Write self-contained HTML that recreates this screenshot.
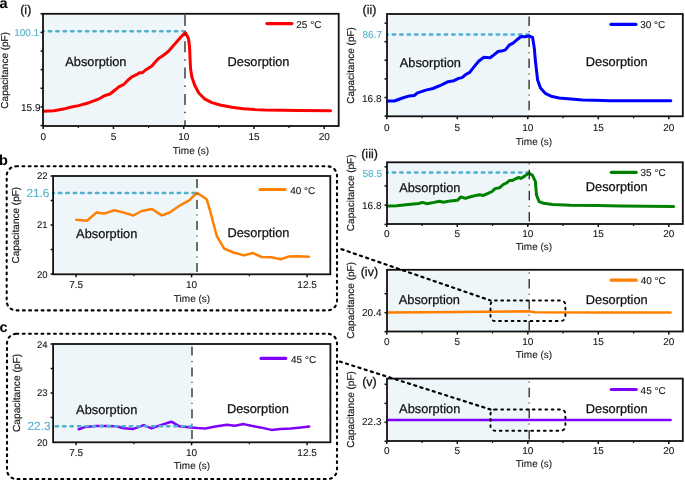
<!DOCTYPE html>
<html><head><meta charset="utf-8"><style>
html,body{margin:0;padding:0;background:#fff;}
body{width:685px;height:480px;overflow:hidden;font-family:"Liberation Sans", sans-serif;}
text{text-rendering:geometricPrecision;}
svg{display:block;will-change:transform;}
</style></head><body>
<svg width="685" height="480" viewBox="0 0 685 480" font-family='"Liberation Sans", sans-serif'>
<rect width="685" height="480" fill="#fff"/>
<text x="-0.6" y="7.6" font-size="14.5" text-anchor="start" fill="#000" stroke="#000" stroke-width="0" font-weight="bold" >a</text>
<text x="-0.9" y="164.5" font-size="14.5" text-anchor="start" fill="#000" stroke="#000" stroke-width="0" font-weight="bold" >b</text>
<text x="-0.5" y="332.3" font-size="14.5" text-anchor="start" fill="#000" stroke="#000" stroke-width="0" font-weight="bold" >c</text>
<text x="20.2" y="14" font-size="12.5" text-anchor="start" fill="#111" stroke="#111" stroke-width="0.25" font-weight="normal" >(i)</text>
<text x="362.6" y="14.0" font-size="12.5" text-anchor="start" fill="#111" stroke="#111" stroke-width="0.25" font-weight="normal" >(ii)</text>
<text x="361.2" y="157.6" font-size="12.5" text-anchor="start" fill="#111" stroke="#111" stroke-width="0.25" font-weight="normal" >(iii)</text>
<text x="360.7" y="275.8" font-size="12.5" text-anchor="start" fill="#111" stroke="#111" stroke-width="0.25" font-weight="normal" >(iv)</text>
<text x="362.2" y="386" font-size="12.5" text-anchor="start" fill="#111" stroke="#111" stroke-width="0.25" font-weight="normal" >(v)</text>
<rect x="43" y="13.8" width="141.6" height="112.2" fill="#eef6fa"/>
<text x="65.3" y="66.0" font-size="12.8" text-anchor="start" fill="#111" stroke="#111" stroke-width="0.25" font-weight="normal" >Absorption</text>
<text x="227.6" y="65.75" font-size="12.8" text-anchor="start" fill="#111" stroke="#111" stroke-width="0.25" font-weight="normal" >Desorption</text>
<line x1="43" y1="31.35" x2="184.5" y2="31.35" stroke="#4fafcc" stroke-width="2.5" stroke-dasharray="2.4 5.02" stroke-dashoffset="1.6" stroke-linecap="round"/>
<polyline points="43.5,111.3 54,110.8 63.4,109.1 70.4,107.3 78.5,105.6 89,102.7 98.4,99.2 104.3,95.8 110,94 116,89.3 118.8,86.9 123.4,84.7 128.1,80 131.9,76.8 136.6,74.7 139.4,72.8 142.2,72.8 146,69.7 151.6,66.3 158.2,58.8 163.8,55 168.5,51.3 175,43.8 180.7,37.2 185.4,32.5 188.5,38.5 189.6,47.5 190.1,60 190.6,69.3 192,77.5 194.9,85.7 199,93.3 204.9,99.1 211.9,102.6 220,105 231.7,107.3 243.4,108.8 255,109.6 265,110 300,110.6 330.6,110.8" fill="none" stroke="#ff0000" stroke-width="3" stroke-linejoin="round" stroke-linecap="round"/>
<line x1="185" y1="15" x2="185" y2="126" stroke="#2a2a2a" stroke-width="1.35" stroke-dasharray="11 6.9 1.5 6.9" stroke-dashoffset="0"/>
<rect x="43" y="13.8" width="295.7" height="112.2" fill="none" stroke="#111" stroke-width="1.8"/>
<line x1="43.2" y1="126" x2="43.2" y2="129" stroke="#111" stroke-width="1.5" />
<line x1="113.45" y1="126" x2="113.45" y2="129" stroke="#111" stroke-width="1.5" />
<line x1="183.7" y1="126" x2="183.7" y2="129" stroke="#111" stroke-width="1.5" />
<line x1="253.95" y1="126" x2="253.95" y2="129" stroke="#111" stroke-width="1.5" />
<line x1="324.2" y1="126" x2="324.2" y2="129" stroke="#111" stroke-width="1.5" />
<line x1="78.325" y1="126" x2="78.325" y2="128" stroke="#111" stroke-width="1.2" />
<line x1="148.575" y1="126" x2="148.575" y2="128" stroke="#111" stroke-width="1.2" />
<line x1="218.825" y1="126" x2="218.825" y2="128" stroke="#111" stroke-width="1.2" />
<line x1="289.075" y1="126" x2="289.075" y2="128" stroke="#111" stroke-width="1.2" />
<line x1="40.5" y1="13.8" x2="43" y2="13.8" stroke="#111" stroke-width="1.5" />
<line x1="40.5" y1="32.42" x2="43" y2="32.42" stroke="#111" stroke-width="1.5" />
<line x1="40.5" y1="51.040000000000006" x2="43" y2="51.040000000000006" stroke="#111" stroke-width="1.5" />
<line x1="40.5" y1="69.66" x2="43" y2="69.66" stroke="#111" stroke-width="1.5" />
<line x1="40.5" y1="88.28" x2="43" y2="88.28" stroke="#111" stroke-width="1.5" />
<line x1="40.5" y1="106.9" x2="43" y2="106.9" stroke="#111" stroke-width="1.5" />
<line x1="40.5" y1="125.52" x2="43" y2="125.52" stroke="#111" stroke-width="1.5" />
<line x1="266.90000000000003" y1="23.6" x2="291.9" y2="23.6" stroke="#ff0000" stroke-width="3.2" stroke-linecap="round"/>
<text x="296.3" y="27.700000000000003" font-size="10" text-anchor="start" fill="#111" stroke="#111" stroke-width="0.08" font-weight="normal" >25 °C</text>
<text x="43.2" y="140.2" font-size="10" text-anchor="middle" fill="#111" stroke="#111" stroke-width="0.08" font-weight="normal" >0</text>
<text x="113.45" y="140.2" font-size="10" text-anchor="middle" fill="#111" stroke="#111" stroke-width="0.08" font-weight="normal" >5</text>
<text x="183.7" y="140.2" font-size="10" text-anchor="middle" fill="#111" stroke="#111" stroke-width="0.08" font-weight="normal" >10</text>
<text x="253.95" y="140.2" font-size="10" text-anchor="middle" fill="#111" stroke="#111" stroke-width="0.08" font-weight="normal" >15</text>
<text x="324.2" y="140.2" font-size="10" text-anchor="middle" fill="#111" stroke="#111" stroke-width="0.08" font-weight="normal" >20</text>
<text x="191" y="154.3" font-size="10" text-anchor="middle" fill="#111" stroke="#111" stroke-width="0.08" font-weight="normal" >Time (s)</text>
<text x="39.2" y="35.9" font-size="10" text-anchor="end" fill="#4fafcc" stroke="#4fafcc" stroke-width="0.08" font-weight="normal" >100.1</text>
<text x="40.5" y="110.9" font-size="10" text-anchor="end" fill="#111" stroke="#111" stroke-width="0.08" font-weight="normal" >15.9</text>
<text x="0" y="0" font-size="10" text-anchor="middle" fill="#111" stroke="#111" stroke-width="0.15" transform="translate(8,70.3) rotate(-90)">Capacitance (pF)</text>
<rect x="387" y="14" width="141.60000000000002" height="102.3" fill="#eef6fa"/>
<text x="399.8" y="66.55" font-size="12.8" text-anchor="start" fill="#111" stroke="#111" stroke-width="0.25" font-weight="normal" >Absorption</text>
<text x="585.8" y="66.0" font-size="12.8" text-anchor="start" fill="#111" stroke="#111" stroke-width="0.25" font-weight="normal" >Desorption</text>
<line x1="387" y1="34.5" x2="528.5" y2="34.5" stroke="#4fafcc" stroke-width="2.5" stroke-dasharray="2.4 5.02" stroke-dashoffset="1.6" stroke-linecap="round"/>
<polyline points="387.5,101 394.3,101 402.5,98 409.5,95.9 414.2,95.5 417.7,92.8 425.9,90.1 432.9,88.5 441.1,85.2 448.1,81.7 453.9,80.7 458.6,78.4 462.1,77.6 465.3,74.8 469.7,72.4 474.2,66.6 478.6,61.3 483.9,57.2 486.5,57.4 490.1,57.7 493.6,55.1 498.1,51.5 502.5,50.7 505.1,50.1 509.6,44.8 513.1,43.1 516.6,40 521.1,36.5 524.6,36.7 529,36 532.6,37.4 534.3,48 535.3,60 536.1,67 537.6,79.9 540.5,88 545.2,93.3 551,96.2 559.2,98 570.9,99.1 582.6,100 594.3,100.3 610,100.7 640,100.8 670.8,100.8" fill="none" stroke="#0000ff" stroke-width="3" stroke-linejoin="round" stroke-linecap="round"/>
<line x1="529.1" y1="16.4" x2="529.1" y2="116.3" stroke="#2a2a2a" stroke-width="1.35" stroke-dasharray="9.5 5.3 1 5.3" stroke-dashoffset="0"/>
<rect x="387" y="14" width="295.79999999999995" height="102.3" fill="none" stroke="#111" stroke-width="1.8"/>
<line x1="386.8" y1="116.3" x2="386.8" y2="119.3" stroke="#111" stroke-width="1.5" />
<line x1="457.3" y1="116.3" x2="457.3" y2="119.3" stroke="#111" stroke-width="1.5" />
<line x1="527.8" y1="116.3" x2="527.8" y2="119.3" stroke="#111" stroke-width="1.5" />
<line x1="598.3" y1="116.3" x2="598.3" y2="119.3" stroke="#111" stroke-width="1.5" />
<line x1="668.8" y1="116.3" x2="668.8" y2="119.3" stroke="#111" stroke-width="1.5" />
<line x1="422.05" y1="116.3" x2="422.05" y2="118.3" stroke="#111" stroke-width="1.2" />
<line x1="492.55" y1="116.3" x2="492.55" y2="118.3" stroke="#111" stroke-width="1.2" />
<line x1="563.05" y1="116.3" x2="563.05" y2="118.3" stroke="#111" stroke-width="1.2" />
<line x1="633.55" y1="116.3" x2="633.55" y2="118.3" stroke="#111" stroke-width="1.2" />
<line x1="384.5" y1="23.1" x2="387" y2="23.1" stroke="#111" stroke-width="1.5" />
<line x1="384.5" y1="41.7" x2="387" y2="41.7" stroke="#111" stroke-width="1.5" />
<line x1="384.5" y1="60.300000000000004" x2="387" y2="60.300000000000004" stroke="#111" stroke-width="1.5" />
<line x1="384.5" y1="78.9" x2="387" y2="78.9" stroke="#111" stroke-width="1.5" />
<line x1="384.5" y1="97.5" x2="387" y2="97.5" stroke="#111" stroke-width="1.5" />
<line x1="384.5" y1="116.1" x2="387" y2="116.1" stroke="#111" stroke-width="1.5" />
<line x1="611.0" y1="24.3" x2="635.9" y2="24.3" stroke="#0000ff" stroke-width="3.2" stroke-linecap="round"/>
<text x="640.2" y="28.4" font-size="10" text-anchor="start" fill="#111" stroke="#111" stroke-width="0.08" font-weight="normal" >30 °C</text>
<text x="386.8" y="131.2" font-size="10" text-anchor="middle" fill="#111" stroke="#111" stroke-width="0.08" font-weight="normal" >0</text>
<text x="457.3" y="131.2" font-size="10" text-anchor="middle" fill="#111" stroke="#111" stroke-width="0.08" font-weight="normal" >5</text>
<text x="527.8" y="131.2" font-size="10" text-anchor="middle" fill="#111" stroke="#111" stroke-width="0.08" font-weight="normal" >10</text>
<text x="598.3" y="131.2" font-size="10" text-anchor="middle" fill="#111" stroke="#111" stroke-width="0.08" font-weight="normal" >15</text>
<text x="668.8" y="131.2" font-size="10" text-anchor="middle" fill="#111" stroke="#111" stroke-width="0.08" font-weight="normal" >20</text>
<text x="534" y="144.5" font-size="10" text-anchor="middle" fill="#111" stroke="#111" stroke-width="0.08" font-weight="normal" >Time (s)</text>
<text x="382" y="38.1" font-size="10" text-anchor="end" fill="#4fafcc" stroke="#4fafcc" stroke-width="0.08" font-weight="normal" >86.7</text>
<text x="381.5" y="102.2" font-size="10" text-anchor="end" fill="#111" stroke="#111" stroke-width="0.08" font-weight="normal" >16.8</text>
<text x="0" y="0" font-size="10" text-anchor="middle" fill="#111" stroke="#111" stroke-width="0.15" transform="translate(354,65.45) rotate(-90)">Capacitance (pF)</text>
<rect x="387" y="162.3" width="141.60000000000002" height="61.69999999999999" fill="#eef6fa"/>
<text x="399.2" y="191.8" font-size="12.8" text-anchor="start" fill="#111" stroke="#111" stroke-width="0.25" font-weight="normal" >Absorption</text>
<text x="585.8" y="191.45" font-size="12.8" text-anchor="start" fill="#111" stroke="#111" stroke-width="0.25" font-weight="normal" >Desorption</text>
<line x1="387" y1="172.5" x2="528.5" y2="172.5" stroke="#4fafcc" stroke-width="2.5" stroke-dasharray="2.4 5.02" stroke-dashoffset="1.6" stroke-linecap="round"/>
<polyline points="387.5,206 396.7,205.8 408.4,204.6 418.9,203.5 422.4,202.4 427.1,203.7 434,202.4 439.3,201.2 443.4,202.3 450.4,200.9 457.4,200.3 460.9,196.9 465.3,198.4 470.5,196.8 475.2,195.6 479.3,194.8 483.4,195.4 488,193.3 492.1,191.5 495,188.6 499.7,187.7 503.2,184.5 506.7,182.8 509.6,180.4 512.6,180.4 516.1,178.5 519,177.5 520.7,178.5 524.3,176.4 528.9,173.1 532.4,175.2 535.4,181.6 536.5,195 539,201.5 543.6,203.3 552.6,204.4 570.7,205.3 597.9,205.6 620.5,206 673.7,206.5" fill="none" stroke="#008000" stroke-width="3" stroke-linejoin="round" stroke-linecap="round"/>
<line x1="529.3" y1="162.3" x2="529.3" y2="224" stroke="#2a2a2a" stroke-width="1.35" stroke-dasharray="9.5 5.3 1 5.3" stroke-dashoffset="13.65"/>
<rect x="387" y="162.3" width="295.79999999999995" height="61.69999999999999" fill="none" stroke="#111" stroke-width="1.8"/>
<line x1="386.8" y1="224" x2="386.8" y2="227" stroke="#111" stroke-width="1.5" />
<line x1="457.3" y1="224" x2="457.3" y2="227" stroke="#111" stroke-width="1.5" />
<line x1="527.8" y1="224" x2="527.8" y2="227" stroke="#111" stroke-width="1.5" />
<line x1="598.3" y1="224" x2="598.3" y2="227" stroke="#111" stroke-width="1.5" />
<line x1="668.8" y1="224" x2="668.8" y2="227" stroke="#111" stroke-width="1.5" />
<line x1="422.05" y1="224" x2="422.05" y2="226" stroke="#111" stroke-width="1.2" />
<line x1="492.55" y1="224" x2="492.55" y2="226" stroke="#111" stroke-width="1.2" />
<line x1="563.05" y1="224" x2="563.05" y2="226" stroke="#111" stroke-width="1.2" />
<line x1="633.55" y1="224" x2="633.55" y2="226" stroke="#111" stroke-width="1.2" />
<line x1="384.5" y1="166.8" x2="387" y2="166.8" stroke="#111" stroke-width="1.5" />
<line x1="384.5" y1="186.0" x2="387" y2="186.0" stroke="#111" stroke-width="1.5" />
<line x1="384.5" y1="205.20000000000002" x2="387" y2="205.20000000000002" stroke="#111" stroke-width="1.5" />
<line x1="384.5" y1="224.4" x2="387" y2="224.4" stroke="#111" stroke-width="1.5" />
<line x1="611.3000000000001" y1="172.3" x2="636.1999999999999" y2="172.3" stroke="#008000" stroke-width="3.2" stroke-linecap="round"/>
<text x="640.5" y="176.4" font-size="10" text-anchor="start" fill="#111" stroke="#111" stroke-width="0.08" font-weight="normal" >35 °C</text>
<text x="386.8" y="237.4" font-size="10" text-anchor="middle" fill="#111" stroke="#111" stroke-width="0.08" font-weight="normal" >0</text>
<text x="457.3" y="237.4" font-size="10" text-anchor="middle" fill="#111" stroke="#111" stroke-width="0.08" font-weight="normal" >5</text>
<text x="527.8" y="237.4" font-size="10" text-anchor="middle" fill="#111" stroke="#111" stroke-width="0.08" font-weight="normal" >10</text>
<text x="598.3" y="237.4" font-size="10" text-anchor="middle" fill="#111" stroke="#111" stroke-width="0.08" font-weight="normal" >15</text>
<text x="668.8" y="237.4" font-size="10" text-anchor="middle" fill="#111" stroke="#111" stroke-width="0.08" font-weight="normal" >20</text>
<text x="534" y="250.2" font-size="10" text-anchor="middle" fill="#111" stroke="#111" stroke-width="0.08" font-weight="normal" >Time (s)</text>
<text x="382" y="176.5" font-size="10" text-anchor="end" fill="#4fafcc" stroke="#4fafcc" stroke-width="0.08" font-weight="normal" >58.5</text>
<text x="381.5" y="208.8" font-size="10" text-anchor="end" fill="#111" stroke="#111" stroke-width="0.08" font-weight="normal" >16.8</text>
<text x="0" y="0" font-size="10" text-anchor="middle" fill="#111" stroke="#111" stroke-width="0.15" transform="translate(354,192.8) rotate(-90)">Capacitance (pF)</text>
<rect x="387" y="269.8" width="141.60000000000002" height="61.69999999999999" fill="#eef6fa"/>
<text x="398.8" y="304.15" font-size="12.8" text-anchor="start" fill="#111" stroke="#111" stroke-width="0.25" font-weight="normal" >Absorption</text>
<text x="585.8" y="303.85" font-size="12.8" text-anchor="start" fill="#111" stroke="#111" stroke-width="0.25" font-weight="normal" >Desorption</text>
<polyline points="387.5,312.6 460,312.1 529,311.3 535,312.2 600,312.4 670.6,312.4" fill="none" stroke="#ff7f00" stroke-width="2.5" stroke-linejoin="round" stroke-linecap="round"/>
<line x1="529.2" y1="269.8" x2="529.2" y2="331.5" stroke="#2a2a2a" stroke-width="1.35" stroke-dasharray="9.5 5.3 1 5.3" stroke-dashoffset="12"/>
<rect x="387" y="269.8" width="295.79999999999995" height="61.69999999999999" fill="none" stroke="#111" stroke-width="1.8"/>
<line x1="386.8" y1="331.5" x2="386.8" y2="334.5" stroke="#111" stroke-width="1.5" />
<line x1="457.3" y1="331.5" x2="457.3" y2="334.5" stroke="#111" stroke-width="1.5" />
<line x1="527.8" y1="331.5" x2="527.8" y2="334.5" stroke="#111" stroke-width="1.5" />
<line x1="598.3" y1="331.5" x2="598.3" y2="334.5" stroke="#111" stroke-width="1.5" />
<line x1="668.8" y1="331.5" x2="668.8" y2="334.5" stroke="#111" stroke-width="1.5" />
<line x1="422.05" y1="331.5" x2="422.05" y2="333.5" stroke="#111" stroke-width="1.2" />
<line x1="492.55" y1="331.5" x2="492.55" y2="333.5" stroke="#111" stroke-width="1.2" />
<line x1="563.05" y1="331.5" x2="563.05" y2="333.5" stroke="#111" stroke-width="1.2" />
<line x1="633.55" y1="331.5" x2="633.55" y2="333.5" stroke="#111" stroke-width="1.2" />
<line x1="384.5" y1="293.7" x2="387" y2="293.7" stroke="#111" stroke-width="1.5" />
<line x1="384.5" y1="312.7" x2="387" y2="312.7" stroke="#111" stroke-width="1.5" />
<line x1="384.5" y1="331.7" x2="387" y2="331.7" stroke="#111" stroke-width="1.5" />
<line x1="611.3000000000001" y1="280.2" x2="636.1999999999999" y2="280.2" stroke="#ff7f00" stroke-width="3.2" stroke-linecap="round"/>
<text x="640.7" y="284.3" font-size="10" text-anchor="start" fill="#111" stroke="#111" stroke-width="0.08" font-weight="normal" >40 °C</text>
<text x="386.8" y="345.1" font-size="10" text-anchor="middle" fill="#111" stroke="#111" stroke-width="0.08" font-weight="normal" >0</text>
<text x="457.3" y="345.1" font-size="10" text-anchor="middle" fill="#111" stroke="#111" stroke-width="0.08" font-weight="normal" >5</text>
<text x="527.8" y="345.1" font-size="10" text-anchor="middle" fill="#111" stroke="#111" stroke-width="0.08" font-weight="normal" >10</text>
<text x="598.3" y="345.1" font-size="10" text-anchor="middle" fill="#111" stroke="#111" stroke-width="0.08" font-weight="normal" >15</text>
<text x="668.8" y="345.1" font-size="10" text-anchor="middle" fill="#111" stroke="#111" stroke-width="0.08" font-weight="normal" >20</text>
<text x="534" y="358.2" font-size="10" text-anchor="middle" fill="#111" stroke="#111" stroke-width="0.08" font-weight="normal" >Time (s)</text>
<text x="381.5" y="316" font-size="10" text-anchor="end" fill="#111" stroke="#111" stroke-width="0.08" font-weight="normal" >20.4</text>
<text x="0" y="0" font-size="10" text-anchor="middle" fill="#111" stroke="#111" stroke-width="0.15" transform="translate(353.8,300.35) rotate(-90)">Capacitance (pF)</text>
<rect x="387" y="378.6" width="141.60000000000002" height="62.39999999999998" fill="#eef6fa"/>
<text x="399.1" y="413.45" font-size="12.8" text-anchor="start" fill="#111" stroke="#111" stroke-width="0.25" font-weight="normal" >Absorption</text>
<text x="585.8" y="413.1" font-size="12.8" text-anchor="start" fill="#111" stroke="#111" stroke-width="0.25" font-weight="normal" >Desorption</text>
<polyline points="387.5,419.9 670.6,419.9" fill="none" stroke="#8000ff" stroke-width="2.5" stroke-linejoin="round" stroke-linecap="round"/>
<line x1="529.2" y1="378.6" x2="529.2" y2="441" stroke="#2a2a2a" stroke-width="1.35" stroke-dasharray="9.5 5.3 1 5.3" stroke-dashoffset="12"/>
<rect x="387" y="378.6" width="295.79999999999995" height="62.39999999999998" fill="none" stroke="#111" stroke-width="1.8"/>
<line x1="386.8" y1="441" x2="386.8" y2="444" stroke="#111" stroke-width="1.5" />
<line x1="457.3" y1="441" x2="457.3" y2="444" stroke="#111" stroke-width="1.5" />
<line x1="527.8" y1="441" x2="527.8" y2="444" stroke="#111" stroke-width="1.5" />
<line x1="598.3" y1="441" x2="598.3" y2="444" stroke="#111" stroke-width="1.5" />
<line x1="668.8" y1="441" x2="668.8" y2="444" stroke="#111" stroke-width="1.5" />
<line x1="422.05" y1="441" x2="422.05" y2="443" stroke="#111" stroke-width="1.2" />
<line x1="492.55" y1="441" x2="492.55" y2="443" stroke="#111" stroke-width="1.2" />
<line x1="563.05" y1="441" x2="563.05" y2="443" stroke="#111" stroke-width="1.2" />
<line x1="633.55" y1="441" x2="633.55" y2="443" stroke="#111" stroke-width="1.2" />
<line x1="384.5" y1="384.3" x2="387" y2="384.3" stroke="#111" stroke-width="1.5" />
<line x1="384.5" y1="403.3" x2="387" y2="403.3" stroke="#111" stroke-width="1.5" />
<line x1="384.5" y1="422.3" x2="387" y2="422.3" stroke="#111" stroke-width="1.5" />
<line x1="384.5" y1="441.3" x2="387" y2="441.3" stroke="#111" stroke-width="1.5" />
<line x1="611.3000000000001" y1="389.5" x2="636.1999999999999" y2="389.5" stroke="#8000ff" stroke-width="3.2" stroke-linecap="round"/>
<text x="640.6" y="393.6" font-size="10" text-anchor="start" fill="#111" stroke="#111" stroke-width="0.08" font-weight="normal" >45 °C</text>
<text x="386.8" y="453.9" font-size="10" text-anchor="middle" fill="#111" stroke="#111" stroke-width="0.08" font-weight="normal" >0</text>
<text x="457.3" y="453.9" font-size="10" text-anchor="middle" fill="#111" stroke="#111" stroke-width="0.08" font-weight="normal" >5</text>
<text x="527.8" y="453.9" font-size="10" text-anchor="middle" fill="#111" stroke="#111" stroke-width="0.08" font-weight="normal" >10</text>
<text x="598.3" y="453.9" font-size="10" text-anchor="middle" fill="#111" stroke="#111" stroke-width="0.08" font-weight="normal" >15</text>
<text x="668.8" y="453.9" font-size="10" text-anchor="middle" fill="#111" stroke="#111" stroke-width="0.08" font-weight="normal" >20</text>
<text x="534" y="467.3" font-size="10" text-anchor="middle" fill="#111" stroke="#111" stroke-width="0.08" font-weight="normal" >Time (s)</text>
<text x="381.5" y="425.2" font-size="10" text-anchor="end" fill="#111" stroke="#111" stroke-width="0.08" font-weight="normal" >22.3</text>
<text x="0" y="0" font-size="10" text-anchor="middle" fill="#111" stroke="#111" stroke-width="0.15" transform="translate(353.8,409.5) rotate(-90)">Capacitance (pF)</text>
<rect x="53.1" y="176" width="143.4" height="98.30000000000001" fill="#eef6fa"/>
<text x="76.1" y="237.7" font-size="12.8" text-anchor="start" fill="#111" stroke="#111" stroke-width="0.25" font-weight="normal" >Absorption</text>
<text x="227.5" y="237.35" font-size="12.8" text-anchor="start" fill="#111" stroke="#111" stroke-width="0.25" font-weight="normal" >Desorption</text>
<line x1="53.1" y1="193.1" x2="196.5" y2="193.1" stroke="#4fafcc" stroke-width="2.5" stroke-dasharray="2.4 5.02" stroke-dashoffset="1.6" stroke-linecap="round"/>
<polyline points="76.3,219.7 86.9,220.7 96.6,212.4 104.2,213.6 114.4,210.3 123.1,212.4 133.2,215.5 141.8,211 152,209 161.7,215.4 169.3,212.8 179,206 189.2,200.3 196.8,192.8 206.7,199.2 211.7,216.7 216.7,235.8 224.2,248.7 233.3,252.5 244.2,255.4 252.7,253 261.6,257 271,257.2 280.9,259.3 289.1,256.4 298.4,256.3 308.9,256.8" fill="none" stroke="#ff7f00" stroke-width="2.5" stroke-linejoin="round" stroke-linecap="round"/>
<line x1="197" y1="179" x2="197" y2="274.3" stroke="#2a2a2a" stroke-width="1.35" stroke-dasharray="9 5.5 1 5.5" stroke-dashoffset="0"/>
<rect x="53.1" y="176" width="277.2" height="98.30000000000001" fill="none" stroke="#111" stroke-width="1.8"/>
<line x1="76.1" y1="274.3" x2="76.1" y2="277.3" stroke="#111" stroke-width="1.5" />
<line x1="191.60000000000002" y1="274.3" x2="191.60000000000002" y2="277.3" stroke="#111" stroke-width="1.5" />
<line x1="307.1" y1="274.3" x2="307.1" y2="277.3" stroke="#111" stroke-width="1.5" />
<line x1="133.85000000000002" y1="274.3" x2="133.85000000000002" y2="276.3" stroke="#111" stroke-width="1.2" />
<line x1="249.35000000000002" y1="274.3" x2="249.35000000000002" y2="276.3" stroke="#111" stroke-width="1.2" />
<line x1="50.6" y1="176.0" x2="53.1" y2="176.0" stroke="#111" stroke-width="1.5" />
<line x1="50.6" y1="200.5" x2="53.1" y2="200.5" stroke="#111" stroke-width="1.5" />
<line x1="50.6" y1="225.0" x2="53.1" y2="225.0" stroke="#111" stroke-width="1.5" />
<line x1="50.6" y1="249.5" x2="53.1" y2="249.5" stroke="#111" stroke-width="1.5" />
<line x1="50.6" y1="274.0" x2="53.1" y2="274.0" stroke="#111" stroke-width="1.5" />
<line x1="260.0" y1="189.5" x2="285.0" y2="189.5" stroke="#ff7f00" stroke-width="3.2" stroke-linecap="round"/>
<text x="290.2" y="193.6" font-size="10" text-anchor="start" fill="#111" stroke="#111" stroke-width="0.08" font-weight="normal" >40 °C</text>
<text x="76.1" y="288.3" font-size="10" text-anchor="middle" fill="#111" stroke="#111" stroke-width="0.08" font-weight="normal" >7.5</text>
<text x="191.60000000000002" y="288.3" font-size="10" text-anchor="middle" fill="#111" stroke="#111" stroke-width="0.08" font-weight="normal" >10</text>
<text x="307.1" y="288.3" font-size="10" text-anchor="middle" fill="#111" stroke="#111" stroke-width="0.08" font-weight="normal" >12.5</text>
<text x="192" y="302" font-size="10" text-anchor="middle" fill="#111" stroke="#111" stroke-width="0.08" font-weight="normal" >Time (s)</text>
<text x="47.6" y="179" font-size="9.5" text-anchor="end" fill="#111" stroke="#111" stroke-width="0.08" font-weight="normal" >22</text>
<text x="49.4" y="197.1" font-size="11.8" text-anchor="end" fill="#4fafcc" stroke="#4fafcc" stroke-width="0.08" font-weight="normal" >21.6</text>
<text x="47.6" y="228.2" font-size="9.5" text-anchor="end" fill="#111" stroke="#111" stroke-width="0.08" font-weight="normal" >21</text>
<text x="47.6" y="277.8" font-size="9.5" text-anchor="end" fill="#111" stroke="#111" stroke-width="0.08" font-weight="normal" >20</text>
<text x="0" y="0" font-size="10" text-anchor="middle" fill="#111" stroke="#111" stroke-width="0.15" transform="translate(18.8,225.2) rotate(-90)">Capacitance (pF)</text>
<rect x="53.1" y="344" width="138.5" height="98.30000000000001" fill="#eef6fa"/>
<text x="76.1" y="413.95" font-size="12.8" text-anchor="start" fill="#111" stroke="#111" stroke-width="0.25" font-weight="normal" >Absorption</text>
<text x="226.9" y="413.35" font-size="12.8" text-anchor="start" fill="#111" stroke="#111" stroke-width="0.25" font-weight="normal" >Desorption</text>
<polyline points="78.7,429.2 85.3,426.9 95.5,426.1 105.8,426.1 116,426.3 124.1,428.2 133.5,428.9 143.8,425.1 151.5,428.4 160.6,425.1 171.4,421.7 179.5,426.3 191.3,427.4 197.2,427.9 205.3,428.4 215.5,426.5 226.8,424.8 234.9,425.8 243.6,424.1 251.3,425.8 260.2,427.4 271.5,429.9 280.6,428.9 290.9,428.4 301.1,427.4 309.2,426.5" fill="none" stroke="#8000ff" stroke-width="2.5" stroke-linejoin="round" stroke-linecap="round"/>
<line x1="192" y1="346.5" x2="192" y2="442.3" stroke="#2a2a2a" stroke-width="1.35" stroke-dasharray="9 5.45 1 5.45" stroke-dashoffset="0"/>
<rect x="53.1" y="344" width="277.29999999999995" height="98.30000000000001" fill="none" stroke="#111" stroke-width="1.8"/>
<line x1="76.1" y1="442.3" x2="76.1" y2="445.3" stroke="#111" stroke-width="1.5" />
<line x1="191.60000000000002" y1="442.3" x2="191.60000000000002" y2="445.3" stroke="#111" stroke-width="1.5" />
<line x1="307.1" y1="442.3" x2="307.1" y2="445.3" stroke="#111" stroke-width="1.5" />
<line x1="133.85000000000002" y1="442.3" x2="133.85000000000002" y2="444.3" stroke="#111" stroke-width="1.2" />
<line x1="249.35000000000002" y1="442.3" x2="249.35000000000002" y2="444.3" stroke="#111" stroke-width="1.2" />
<line x1="50.6" y1="344.0" x2="53.1" y2="344.0" stroke="#111" stroke-width="1.5" />
<line x1="50.6" y1="368.5" x2="53.1" y2="368.5" stroke="#111" stroke-width="1.5" />
<line x1="50.6" y1="393.0" x2="53.1" y2="393.0" stroke="#111" stroke-width="1.5" />
<line x1="50.6" y1="417.5" x2="53.1" y2="417.5" stroke="#111" stroke-width="1.5" />
<line x1="261.1" y1="358.4" x2="285.7" y2="358.4" stroke="#8000ff" stroke-width="3.2" stroke-linecap="round"/>
<text x="291" y="362.5" font-size="10" text-anchor="start" fill="#111" stroke="#111" stroke-width="0.08" font-weight="normal" >45 °C</text>
<text x="76.1" y="456.2" font-size="10" text-anchor="middle" fill="#111" stroke="#111" stroke-width="0.08" font-weight="normal" >7.5</text>
<text x="191.60000000000002" y="456.2" font-size="10" text-anchor="middle" fill="#111" stroke="#111" stroke-width="0.08" font-weight="normal" >10</text>
<text x="307.1" y="456.2" font-size="10" text-anchor="middle" fill="#111" stroke="#111" stroke-width="0.08" font-weight="normal" >12.5</text>
<text x="192" y="469.3" font-size="10" text-anchor="middle" fill="#111" stroke="#111" stroke-width="0.08" font-weight="normal" >Time (s)</text>
<text x="47.6" y="347.6" font-size="9.5" text-anchor="end" fill="#111" stroke="#111" stroke-width="0.08" font-weight="normal" >24</text>
<text x="47.6" y="396.3" font-size="9.5" text-anchor="end" fill="#111" stroke="#111" stroke-width="0.08" font-weight="normal" >23</text>
<text x="50.5" y="429.5" font-size="11.8" text-anchor="end" fill="#4fafcc" stroke="#4fafcc" stroke-width="0.08" font-weight="normal" >22.3</text>
<text x="47.6" y="445.6" font-size="9.5" text-anchor="end" fill="#111" stroke="#111" stroke-width="0.08" font-weight="normal" >20</text>
<line x1="53.1" y1="426.2" x2="192.2" y2="426.2" stroke="#4fafcc" stroke-width="2.5" stroke-dasharray="2.4 5.02" stroke-dashoffset="4.87" stroke-linecap="round"/>
<text x="0" y="0" font-size="10.2" text-anchor="middle" fill="#111" stroke="#111" stroke-width="0.15" transform="translate(19.5,393) rotate(-90)">Capacitance (pF)</text>
<rect x="6.7" y="166.3" width="330.3" height="144.1" rx="9.5" fill="none" stroke="#000" stroke-width="2.1" stroke-dasharray="1.9 4.35" stroke-linecap="round"/>
<rect x="7" y="333.8" width="330" height="145.3" rx="9.5" fill="none" stroke="#000" stroke-width="2.1" stroke-dasharray="1.9 4.35" stroke-linecap="round"/>
<rect x="490.5" y="300.5" width="74.9" height="20.5" rx="4.5" fill="none" stroke="#000" stroke-width="1.9" stroke-dasharray="1.8 4.5" stroke-linecap="round"/>
<rect x="490.5" y="409.5" width="74.9" height="21.2" rx="4.5" fill="none" stroke="#000" stroke-width="1.9" stroke-dasharray="1.8 4.5" stroke-linecap="round"/>
<line x1="338" y1="248" x2="490.5" y2="300.5" stroke="#000" stroke-width="2.2" stroke-dasharray="2.2 4.3" stroke-dashoffset="-3.66" stroke-linecap="round"/>
<line x1="338" y1="361" x2="490.5" y2="409.5" stroke="#000" stroke-width="2.2" stroke-dasharray="2.2 4.3" stroke-dashoffset="-1.89" stroke-linecap="round"/>
</svg>
</body></html>
